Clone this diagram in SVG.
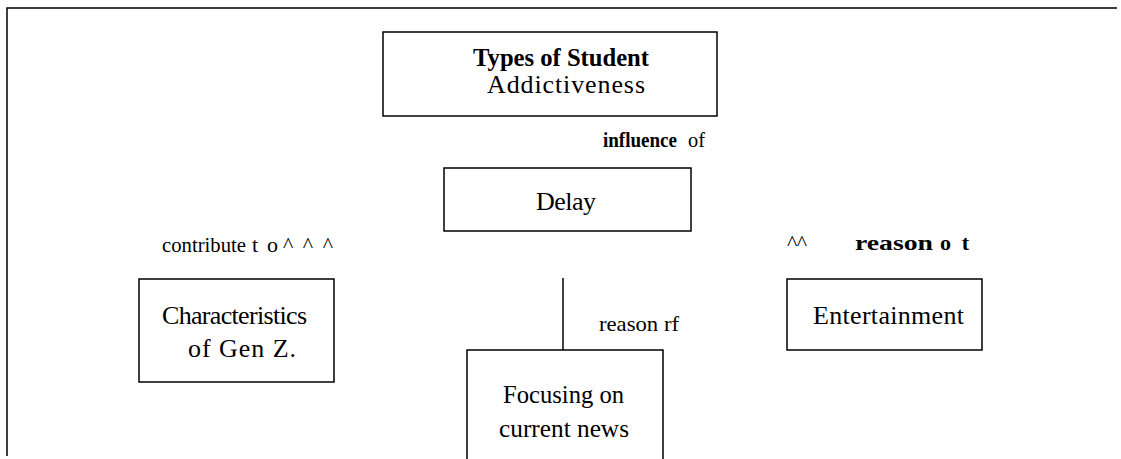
<svg xmlns="http://www.w3.org/2000/svg" width="1121" height="459" viewBox="0 0 1121 459">
  <style>
    .box { fill: #ffffff; stroke: #000000; stroke-width: 1.5; }
    .line { fill: none; stroke: #000000; stroke-width: 1.5; }
    .node { font-size: 26px; }
    .lbl { font-size: 22px; }
    .b { font-weight: bold; }
  </style>
  <rect width="1121" height="459" fill="#ffffff"/>

  <!-- outer frame (top and left edges only) -->
  <g id="frame">
    <path class="line" d="M7,456 V8 H1117"/>
  </g>

  <g font-family="Liberation Serif, serif" fill="#000000">
    <!-- connectors and their labels -->
    <g id="connectors">
      <line class="line" x1="563" y1="278" x2="563" y2="350"/>
      <text class="lbl b" x="603" y="147" textLength="74" lengthAdjust="spacingAndGlyphs">influence</text>
      <text class="lbl" x="688" y="147" textLength="17" lengthAdjust="spacingAndGlyphs">of</text>
      <text class="lbl" x="162" y="252" font-size="23" textLength="84" lengthAdjust="spacingAndGlyphs">contribute</text>
      <text class="lbl" x="252" y="252" font-size="23" textLength="26" lengthAdjust="spacing">t o</text>
      <text class="lbl" x="283" y="252" textLength="50" lengthAdjust="spacing">^ ^ ^</text>
      <text class="lbl" x="599" y="331" font-size="24" textLength="80" lengthAdjust="spacingAndGlyphs">reason rf</text>
      <text class="lbl" x="787" y="250" font-size="18" textLength="20" lengthAdjust="spacing">^^</text>
      <text class="lbl b" x="855" y="250" font-size="24" textLength="78" lengthAdjust="spacingAndGlyphs">reason</text>
      <text class="lbl b" x="940" y="250" font-size="24" textLength="29" lengthAdjust="spacing">ot</text>
    </g>

    <g id="node-types">
      <rect class="box" x="383" y="32" width="334" height="84"/>
      <text class="node b" x="473" y="66" font-size="24" textLength="176" lengthAdjust="spacingAndGlyphs">Types of Student</text>
      <text class="node" x="487" y="93" font-size="25" textLength="158" lengthAdjust="spacing">Addictiveness</text>
    </g>

    <g id="node-delay">
      <rect class="box" x="444" y="168" width="247" height="63"/>
      <text class="node" x="536" y="210" textLength="60" lengthAdjust="spacing">Delay</text>
    </g>

    <g id="node-genz">
      <rect class="box" x="139" y="279" width="195" height="103"/>
      <text class="node" x="162" y="324" textLength="145" lengthAdjust="spacing">Characteristics</text>
      <text class="node" x="188" y="357" textLength="108" lengthAdjust="spacing">of Gen Z.</text>
    </g>

    <g id="node-news">
      <path class="box" d="M467,462 V350 H663 V462"/>
      <text class="node" x="503" y="403" textLength="121" lengthAdjust="spacingAndGlyphs">Focusing on</text>
      <text class="node" x="499" y="437" textLength="130" lengthAdjust="spacingAndGlyphs">current news</text>
    </g>

    <g id="node-entertainment">
      <rect class="box" x="787" y="279" width="195" height="71"/>
      <text class="node" x="813" y="324" textLength="151" lengthAdjust="spacing">Entertainment</text>
    </g>
  </g>
</svg>
